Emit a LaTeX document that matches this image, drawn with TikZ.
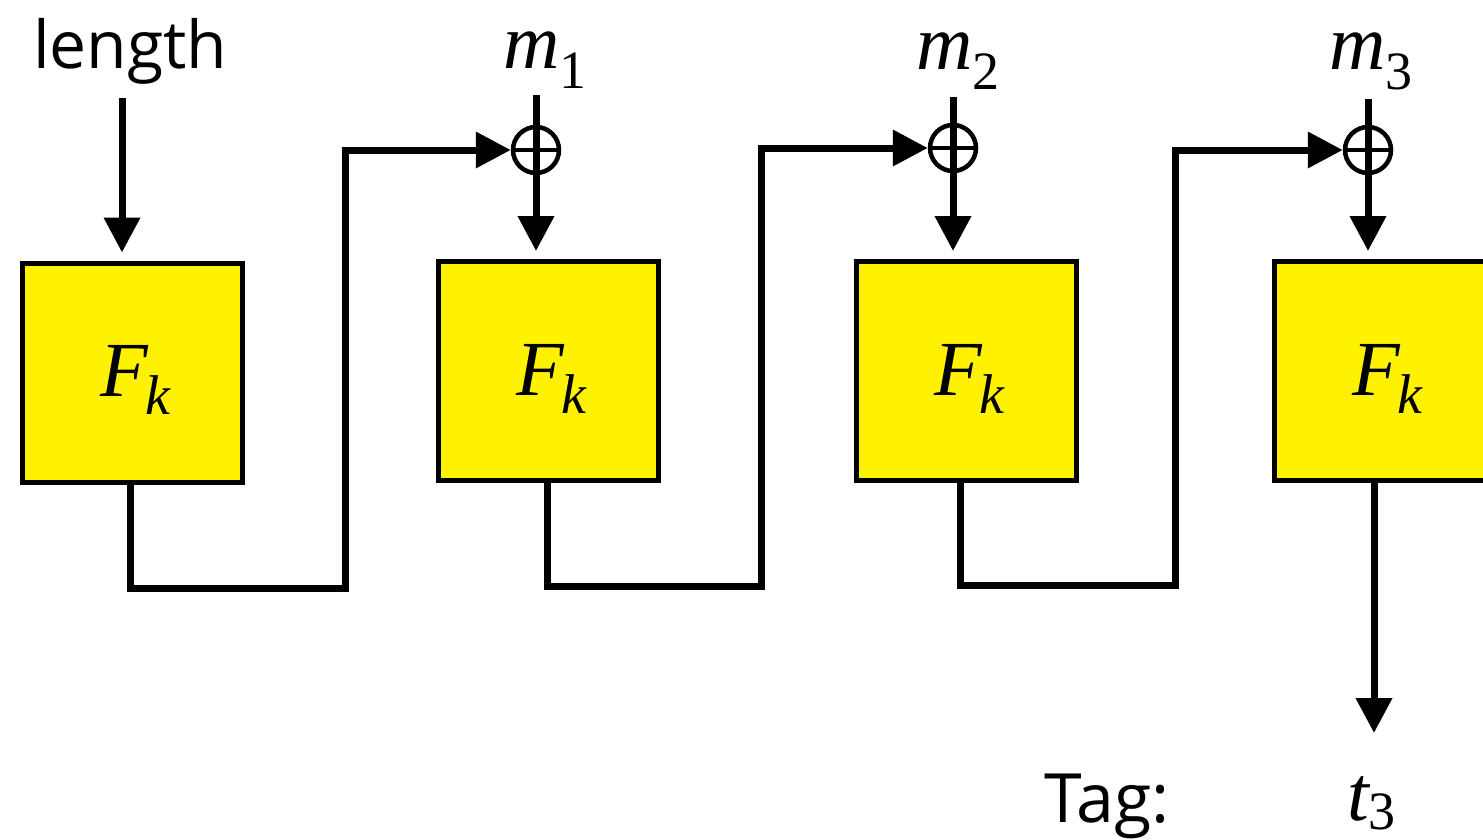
\documentclass[tikz,border=0pt]{standalone}
\usepackage{fontspec}
\setmainfont{Open Sans}
\newfontfamily\tms{Liberation Serif}
\usetikzlibrary{arrows.meta,calc}
\tikzset{
 x=1pt,y=-1pt,
 wire/.style={line width=7pt},
 arr/.style={wire,-{Triangle[width=35pt,length=35pt]}},
 fbox/.style={draw,line width=5pt,fill=yellow,minimum width=220pt,minimum height=219pt,inner sep=0pt},
 xorc/.style={circle,draw,line width=4.5pt,minimum size=46pt,inner sep=0pt},
 lbl/.style={inner sep=0pt,anchor=base west},
}
\newcommand\bigit[1]{{\tms\fontsize{78}{80}\selectfont\itshape #1}}
\newcommand\subn[2]{\raisebox{-#1}{\tms\fontsize{54}{56}\selectfont #2}}
\newcommand\subk{\raisebox{-18pt}{\tms\fontsize{56}{58}\selectfont\itshape k}}
\newcommand\fk{\bigit{F}\kern-2pt\subk}
\begin{document}
\begin{tikzpicture}
\clip (0,0) rectangle (1483,839);
\fill[white] (0,0) rectangle (1483,839);
% boxes
\node[fbox] (b1) at (132,372.5) {};
\node[fbox] (b2) at (548,371) {};
\node[fbox] (b3) at (966,371) {};
\node[fbox] (b4) at (1384,371) {};
\node[lbl] (f1) at ([xshift=-32pt,yshift=-24pt]b1.center) {\fk};
\node[lbl] (f2) at ([xshift=-32pt,yshift=-24pt]b2.center) {\fk};
\node[lbl] (f3) at ([xshift=-32pt,yshift=-24pt]b3.center) {\fk};
\node[lbl] (f4) at ([xshift=-32pt,yshift=-24pt]b4.center) {\fk};
% xor nodes
\node[xorc] (x1) at (536,150) {};
\node[xorc] (x2) at (953,148) {};
\node[xorc] (x3) at (1368,150) {};
\foreach \x in {x1,x2,x3}{
  \draw[line width=4.5pt] ([xshift=-23pt]\x.center) -- ([xshift=23pt]\x.center);
}
% labels
\node[lbl] (len) at (33,68) {\fontsize{66}{76}\selectfont length};
\node[lbl] (m1) at (503,68) {\bigit{m}\subn{20pt}{1}};
\node[lbl] (m2) at (916,69) {\bigit{m}\subn{20pt}{2}};
\node[lbl] (m3) at (1329,69) {\bigit{m}\subn{20pt}{3}};
\node[lbl] (tag) at (1044,822) {\fontsize{68}{76}\selectfont Tag:};
\node[lbl] (tt) at (1347,820) {\bigit{t}\subn{9pt}{3}};
% input coordinates
\coordinate (lt) at (122,98);
\coordinate (t1) at (536,95);
\coordinate (t2) at (953,97);
\coordinate (t3) at (1368,99);
\coordinate (c1) at (345,588);
\coordinate (c2) at (761,586);
\coordinate (c3) at (1175,585);
\coordinate (ob) at (1374,480);
\coordinate (ot) at (1374,733);
% length arrow
\draw[arr] (lt) -- ([yshift=8pt]lt |- b1.north);
% message arrows through xor
\draw[wire] (t1) -- (x1.center);
\draw[arr] (x1.center) -- ([yshift=8pt]x1 |- b2.north);
\draw[wire] (t2) -- (x2.center);
\draw[arr] (x2.center) -- ([yshift=8pt]x2 |- b3.north);
\draw[wire] (t3) -- (x3.center);
\draw[arr] (x3.center) -- ([yshift=8pt]x3 |- b4.north);
% chaining connectors
\draw[arr] ([xshift=-2pt]b1.south) |- (c1) |- (x1.west);
\draw[arr] ([xshift=-1pt]b2.south) |- (c2) |- (x2.west);
\draw[arr] ([xshift=-6pt]b3.south) |- (c3) |- (x3.west);
% output
\draw[arr] (ob |- b4.south) -- (ot);
\end{tikzpicture}
\end{document}
